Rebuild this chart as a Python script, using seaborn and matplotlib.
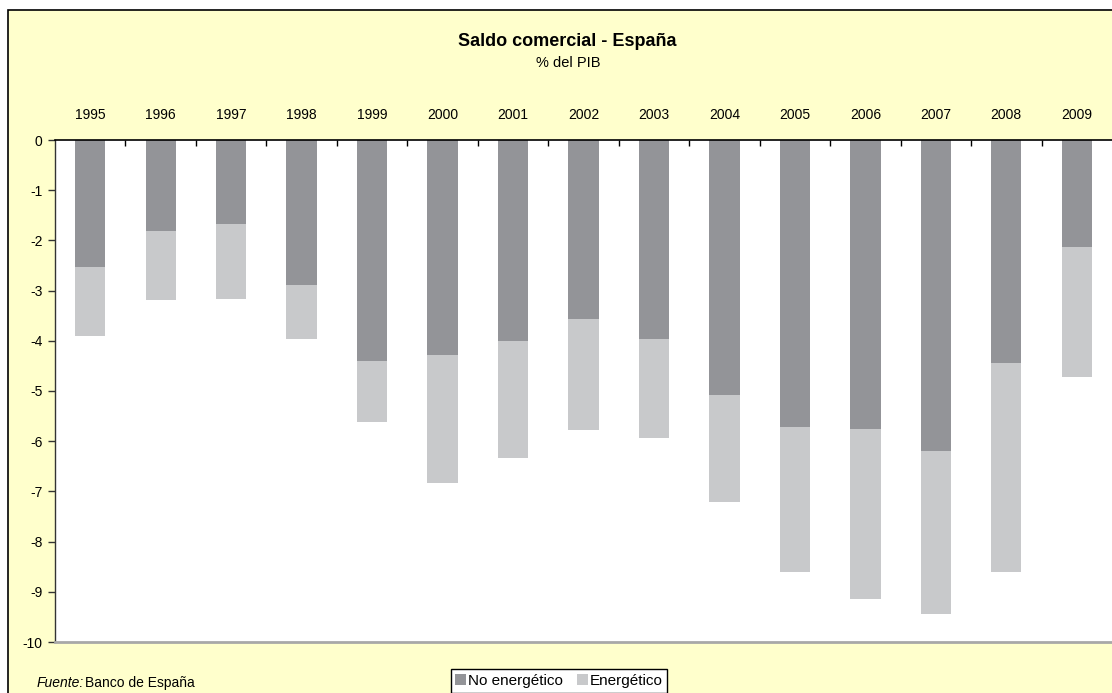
import numpy as np
import pandas as pd
import matplotlib
matplotlib.use("Agg")
import matplotlib.pyplot as plt
import seaborn as sns
from matplotlib.patches import Rectangle, Patch

years = ["1995", "1996", "1997", "1998", "1999", "2000", "2001", "2002",
         "2003", "2004", "2005", "2006", "2007", "2008", "2009"]
no_energetico = [-2.52, -1.81, -1.67, -2.88, -4.40, -4.28, -4.00, -3.57,
                 -3.96, -5.08, -5.71, -5.76, -6.20, -4.44, -2.14]
energetico = [-1.38, -1.37, -1.49, -1.08, -1.21, -2.55, -2.33, -2.20,
              -1.97, -2.14, -2.89, -3.38, -3.24, -4.16, -2.59]

df = pd.DataFrame({"Año": years, "No energético": no_energetico, "Energético": energetico})
df["Total"] = df["No energético"] + df["Energético"]

dark = "#939498"
light = "#C8C9CB"
yellow = "#FFFFCC"

sns.set_style("white")
plt.rcParams["font.family"] = ["Liberation Sans", "DejaVu Sans"]
plt.rcParams["axes.unicode_minus"] = False
plt.rcParams["text.color"] = "black"
plt.rcParams["xtick.color"] = "black"
plt.rcParams["ytick.color"] = "black"

W, H = 1112, 693
fig = plt.figure(figsize=(W / 100, H / 100), dpi=100)
fig.patch.set_facecolor("white")
fig.patches.append(Rectangle((8 / W, -0.01), 1.0, 1.01 - 10 / H, transform=fig.transFigure,
                             facecolor=yellow, edgecolor="black", lw=1.2, zorder=-1))

ax = fig.add_axes([55 / W, 51 / H, 1057 / W, 502 / H])
ax.set_facecolor("white")

# stacked: light total behind, dark "no energético" on top
sns.barplot(data=df, x="Año", y="Total", color=light, saturation=1, width=0.43,
            linewidth=0, ax=ax)
sns.barplot(data=df, x="Año", y="No energético", color=dark, saturation=1, width=0.43,
            linewidth=0, ax=ax)

ax.set_xlim(-0.5, len(years) - 0.5)
ax.set_ylim(-10, 0)
ax.set_yticks(range(-10, 1))
ax.set_xlabel("")
ax.set_ylabel("")

ax.xaxis.tick_top()
ax.tick_params(axis="x", which="major", length=0, pad=13, labelsize=10, labelcolor="black")
ax.set_xticks(np.arange(0.5, len(years) - 0.5, 1), minor=True)
ax.tick_params(axis="x", which="minor", direction="in", length=4, width=1, top=True, bottom=False, color="black")
ax.tick_params(axis="y", direction="out", length=5, width=1, pad=4, labelsize=10, left=True,
               color="#333333", labelcolor="black")

ax.spines["top"].set_color("black")
ax.spines["top"].set_linewidth(1.2)
ax.spines["left"].set_color("#333333")
ax.spines["left"].set_linewidth(1)
ax.spines["bottom"].set_color("#A8A8A8")
ax.spines["bottom"].set_linewidth(2)
ax.spines["right"].set_visible(False)

fig.text(567 / W, 1 - 42 / H, "Saldo comercial - España", ha="center", va="center",
         fontsize=13, fontweight="bold")
fig.text(568 / W, 1 - 63 / H, "% del PIB", ha="center", va="center", fontsize=10.5)

fig.text(37 / W, 1 - 683 / H, "Fuente:", ha="left", va="center", fontsize=10, style="italic")
fig.text(85 / W, 1 - 683 / H, "Banco de España", ha="left", va="center", fontsize=10)

handles = [Patch(facecolor=dark, edgecolor="none", label="No energético"),
           Patch(facecolor=light, edgecolor="none", label="Energético")]
leg = fig.legend(handles=handles, loc="center", bbox_to_anchor=(559 / W, 1 - 681 / H), ncol=2,
                 frameon=True, fancybox=False, edgecolor="black", facecolor="white", framealpha=1,
                 fontsize=11, handlelength=0.7, handleheight=0.7, handletextpad=0.15,
                 columnspacing=0.9, borderpad=0.3, borderaxespad=0)
leg.get_frame().set_linewidth(1)

fig.savefig("out.png", dpi=100, facecolor=fig.get_facecolor())
